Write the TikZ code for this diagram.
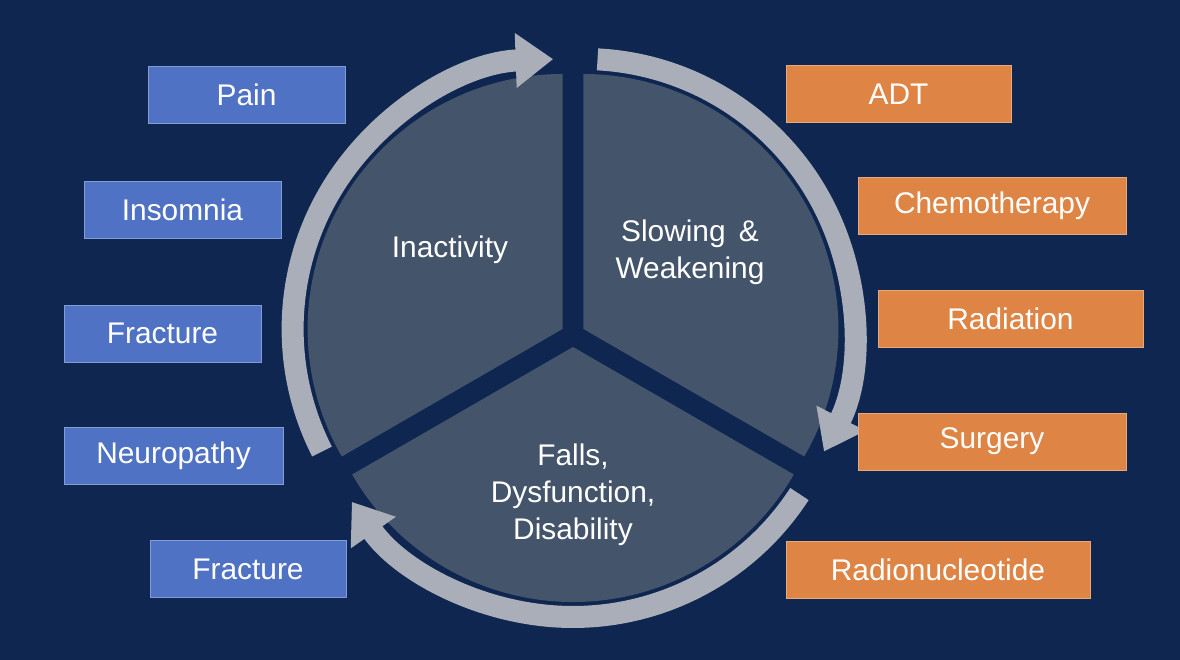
\documentclass[tikz,border=0pt]{standalone}
\usepackage{fontspec}
\setmainfont{Liberation Sans}
\usetikzlibrary{calc,arrows.meta}

\definecolor{bgnavy}{RGB}{14,38,80}
\definecolor{slate}{RGB}{68,84,106}
\definecolor{ringgray}{RGB}{170,174,184}
\definecolor{causeblue}{RGB}{79,114,196}
\definecolor{treatorange}{RGB}{222,132,68}

\tikzset{
    sector/.style={fill=slate},
    ringarc/.style={draw=ringgray, line width=0.44cm, -{Triangle[width=1.05cm,length=0.75cm]}},
    sectortext/.style={text=white, align=center, font=\fontsize{17}{21}\selectfont},
    bluebox/.style={fill=causeblue, draw=causeblue!70!white, text=white, minimum height=1.14cm, font=\fontsize{17}{20}\selectfont},
    orangebox/.style={fill=treatorange, draw=treatorange!70!white, text=white, minimum height=1.14cm, font=\fontsize{17}{20}\selectfont}
}

\begin{document}
\begin{tikzpicture}
    \fill[bgnavy] (0,0) rectangle (23.6,13.2);
    \useasboundingbox (0,0) rectangle (23.6,13.2);

    % Centre of the cycle and the exploded centres of the three slices
    \coordinate (cM) at (11.46,6.5);
    \coordinate (cInact) at ($(cM)+(150:0.24)$);
    \coordinate (cSlow) at ($(cM)+(30:0.24)$);
    \coordinate (cFall) at ($(cM)+(270:0.24)$);

    % Draw the three slices
    \fill[sector] (cInact) -- ++(90:5.1) arc[start angle=90, end angle=210, radius=5.1] -- cycle;
    \fill[sector] (cSlow) -- ++(-30:5.1) arc[start angle=-30, end angle=90, radius=5.1] -- cycle;
    \fill[sector] (cFall) -- ++(210:5.1) arc[start angle=210, end angle=330, radius=5.1] -- cycle;

    % Draw the arrows of the cycle
    \draw[ringarc] ($(cInact)+(207:5.4)$) arc[start angle=207, end angle=92, radius=5.4];
    \draw[ringarc] ($(cSlow)+(87:5.4)$) arc[start angle=87, end angle=-27, radius=5.4];
    \draw[ringarc] ($(cFall)+(-33:5.4)$) arc[start angle=-33, end angle=-145, radius=5.4];

    % Label the slices
    \node[sectortext] (tInact) at (9.0,8.2) {Inactivity};
    \node[sectortext] (tSlow) at (13.8,8.15) {Slowing \,\&\\Weakening};
    \node[sectortext] (tFall) at (11.46,3.3) {Falls,\\Dysfunction,\\Disability};

    % Causes on the left
    \node[bluebox, minimum width=3.94cm] (bPain) at (4.93,11.3) {Pain};
    \node[bluebox, minimum width=3.94cm] (bInsom) at (3.65,9.0) {Insomnia};
    \node[bluebox, minimum width=3.94cm] (bFract) at (3.25,6.53) {Fracture};
    \node[bluebox, minimum width=4.38cm] (bNeuro) at (3.47,4.09) {Neuropathy};
    \node[bluebox, minimum width=3.92cm] (bFract2) at (4.96,1.82) {Fracture};

    % Treatments on the right
    \node[orangebox, minimum width=4.5cm] (oADT) at (17.97,11.32) {ADT};
    \node[orangebox, minimum width=5.36cm] (oChemo) at (19.84,9.09) {Chemotherapy};
    \node[orangebox, minimum width=5.3cm] (oRad) at (20.21,6.83) {Radiation};
    \node[orangebox, minimum width=5.36cm] (oSurg) at (19.84,4.37) {Surgery};
    \node[orangebox, minimum width=6.08cm] (oRadio) at (18.76,1.81) {Radionucleotide};
\end{tikzpicture}
\end{document}
